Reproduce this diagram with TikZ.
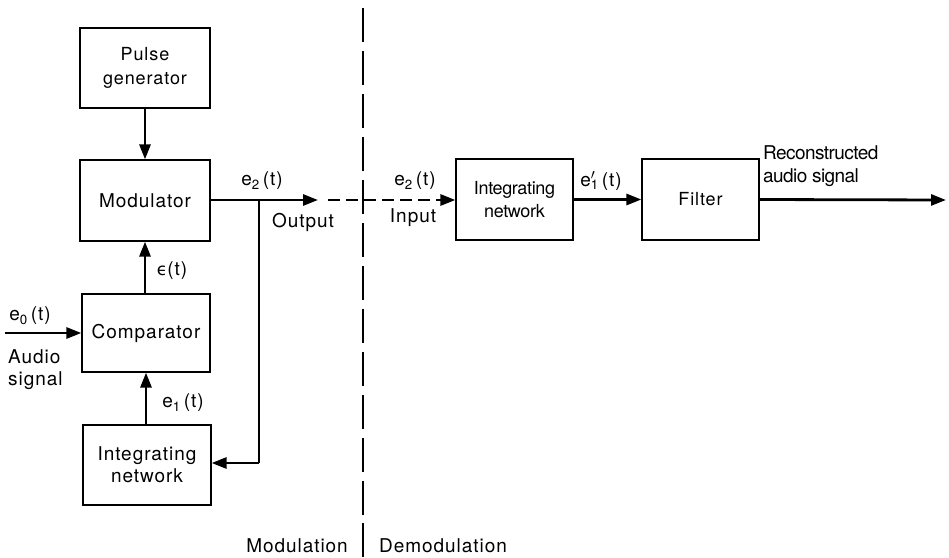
\documentclass[tikz,border=0pt]{standalone}
\usepackage{fontspec}
\setmainfont[LetterSpace=5]{TeX Gyre Heros}
\newfontfamily\tightfont[LetterSpace=-3]{TeX Gyre Heros}
\newfontfamily\tightfontb[LetterSpace=-2]{TeX Gyre Heros}
\newfontfamily\dejavu{DejaVu Sans}
\usetikzlibrary{arrows.meta}
\begin{document}
\begin{tikzpicture}[x=1pt,y=-1pt,
  blk/.style={draw,line width=1.2pt,rectangle,align=center,inner sep=0pt,
    font=\fontsize{19}{24}\selectfont},
  lbl/.style={inner sep=0pt,font=\fontsize{19}{24}\selectfont},
  sig/.style={line width=2.8pt,-{Triangle[length=15pt,width=11pt]}},
  sigline/.style={line width=2.8pt},
  sigdash/.style={line width=2.8pt,dash pattern=on 12pt off 6pt,-{Triangle[length=15pt,width=11pt]}},
  divider/.style={line width=1.2pt,dash pattern=on 34pt off 9pt}]
\useasboundingbox (0,0) rectangle (949,557);
\node[blk,minimum width=130pt,minimum height=80pt,font=\fontsize{18}{24}\selectfont] (pulse) at (145,68) {Pulse\\generator};
\node[blk,minimum width=130pt,minimum height=81pt] (mod) at (145,200.5) {Modulator};
\node[blk,minimum width=128pt,minimum height=78pt] (comp) at (146,333) {Comparator};
\node[blk,minimum width=128pt,minimum height=80pt,font=\fontsize{19}{22}\selectfont] (intl) at (147,465) {Integrating\\network};
\node[blk,minimum width=117pt,minimum height=81pt,font=\tightfontb\fontsize{18}{23}\selectfont] (intr) at (514.5,199.5) {Integrating\\network};
\node[blk,minimum width=117pt,minimum height=81pt,font=\fontsize{18}{24}\selectfont] (filt) at (700.5,199.5) {Filter};
\coordinate (src) at (5,333);
\coordinate (outtip) at (318,200);
\coordinate (dashstart) at (328,200);
\coordinate (branch) at (259,200);
\coordinate (corner) at (259,463);
\coordinate (end) at (946,200);
\coordinate (dtop) at (363,8);
\coordinate (dbot) at (363,520);
\coordinate (stop) at (363,523);
\coordinate (sbot) at (363,557);
% connectors
\draw[sig] (pulse.south) -- (mod.north);
\draw[sig] (comp.north -| mod.south) -- (mod.south);
\draw[sig] (intl.north -| comp.south) -- (comp.south);
\draw[sig] (src) -- (comp.west);
\draw[sig] (mod.east |- outtip) -- (outtip);
\draw[sigline] (branch) -- (corner);
\draw[sig] (corner) -- (corner -| intl.east);
\draw[sigdash] (dashstart) -- (intr.west |- dashstart);
\draw[sig] (intr.east) -- (filt.west);
\draw[sig] (filt.east) -- (end);
\draw[divider] (dtop) -- (dbot);
\draw[line width=1.2pt] (stop) -- (sbot);
% labels
\node[lbl] (le2a) at (262,181) {e\textsubscript{2}\,(t)};
\node[lbl] (lout) at (303,222) {Output};
\node[lbl] (leps) at (172,271) {{\dejavu\fontsize{17}{20}\selectfont ϵ}(t)};
\node[lbl] (le0) at (30,316) {e\textsubscript{0}\,(t)};
\node[lbl,align=left,anchor=west,font=\fontsize{19}{22}\selectfont] (laud) at (8,370) {Audio\\signal};
\node[lbl] (le1) at (183,403) {e\textsubscript{1}\,(t)};
\node[lbl] (le2b) at (415,181) {e\textsubscript{2}\,(t)};
\node[lbl] (linp) at (413,218) {Input};
\node[lbl] (le1p) at (601,181) {e\rlap{\textsuperscript{$\prime$}}\textsubscript{1}\,(t)};
\node[lbl,align=left,anchor=west,font=\tightfont\fontsize{19}{23}\selectfont] (lrec) at (763,166) {Reconstructed\\audio signal};
\node[lbl,anchor=east] (lmod) at (348,546) {Modulation};
\node[lbl,anchor=west] (ldem) at (379,546) {Demodulation};
\end{tikzpicture}
\end{document}
